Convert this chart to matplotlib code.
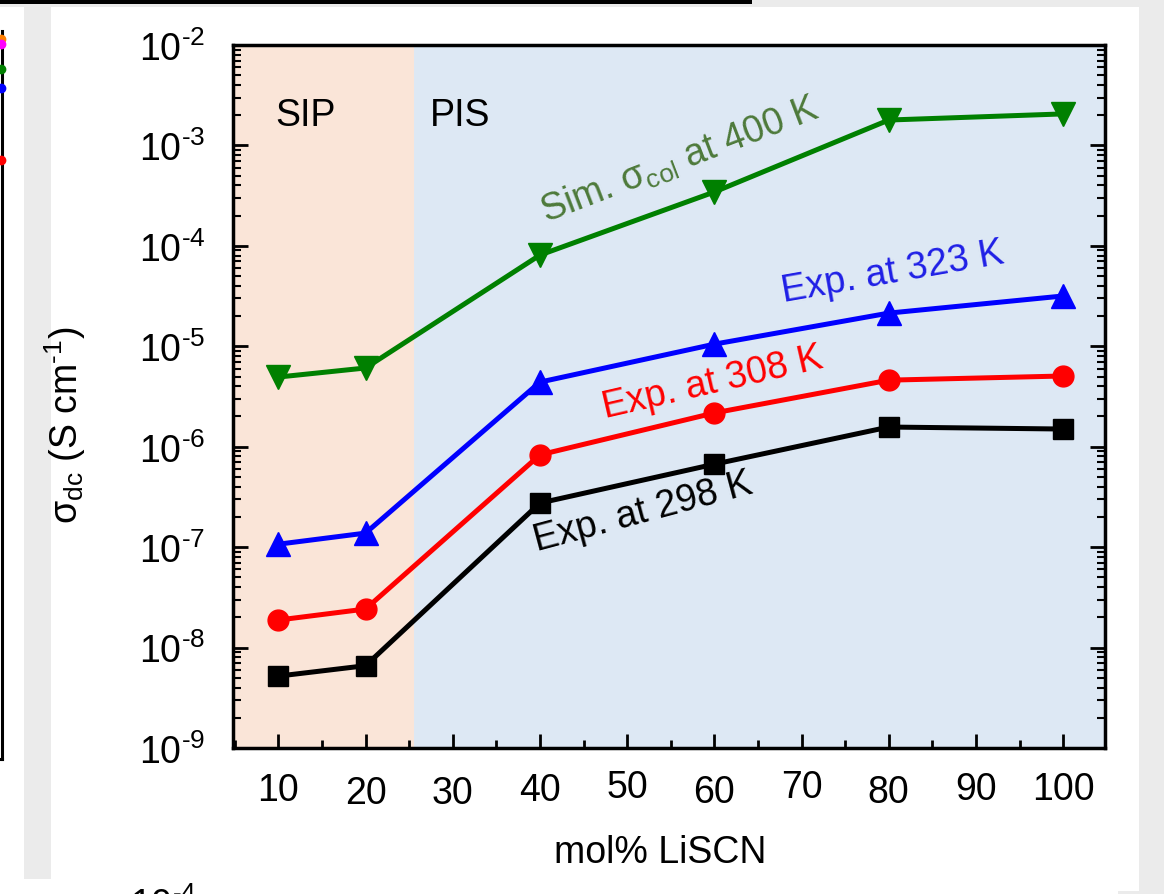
import matplotlib
matplotlib.use("Agg")
import matplotlib.pyplot as plt
import matplotlib.transforms as mtransforms
from matplotlib.patches import Rectangle
from matplotlib.lines import Line2D
from matplotlib.ticker import FuncFormatter
import numpy as np

plt.rcParams['font.family'] = ['Liberation Sans', 'DejaVu Sans']
plt.rcParams['mathtext.fontset'] = 'custom'
plt.rcParams['mathtext.rm'] = 'Liberation Sans'
plt.rcParams['mathtext.it'] = 'Liberation Sans:italic'
plt.rcParams['mathtext.default'] = 'regular'

# dados (mol% LiSCN x condutividade dc)
mol = [10, 20, 40, 60, 80, 100]
exp_298 = [5.2e-9, 6.6e-9, 2.75e-7, 6.7e-7, 1.57e-6, 1.5e-6]
exp_308 = [1.88e-8, 2.42e-8, 8.3e-7, 2.17e-6, 4.6e-6, 5.06e-6]
exp_323 = [1.07e-7, 1.38e-7, 4.4e-6, 1.05e-5, 2.14e-5, 3.17e-5]
sim_400 = [4.94e-6, 6.08e-6, 8.1e-5, 3.44e-4, 1.79e-3, 2.06e-3]
xticks = [10, 20, 30, 40, 50, 60, 70, 80, 90, 100]
limite_sip = 25.5

W, H = 1164, 895
fig = plt.figure(figsize=(W / 100, H / 100), dpi=100)

def px(x0, y0, w, h):
    # retangulo em pixels (origem no topo) -> fracao da figura
    return (x0 / W, 1 - (y0 + h) / H), w / W, h / H

# moldura da captura de tela (fundo cinza, barra preta, painel vizinho)
for (x0, y0, w, h), cor in [((0, 0, W, 8), '#ebebeb'),
                            ((24, 8, 27, 872), '#ebebeb'),
                            ((1139, 0, 25, H), '#ebebeb'),
                            ((1118, 892, 46, 3), '#ebebeb'),
                            ((0, 0, 752, 5), 'black')]:
    xy, ww, hh = px(x0, y0, w, h)
    fig.add_artist(Rectangle(xy, ww, hh, transform=fig.transFigure,
                             facecolor=cor, edgecolor='none', zorder=0))
fig.add_artist(Line2D([2 / W, 2 / W], [1 - 32 / H, 1 - 760 / H],
                      transform=fig.transFigure, color='black', lw=2.2))
fig.add_artist(Line2D([0, 2 / W], [1 - 760 / H, 1 - 760 / H],
                      transform=fig.transFigure, color='black', lw=2.2))
for yy, cor in [(40, '#ff8000'), (45, '#ff00ff'), (70, '#008000'),
                (89, '#0000ff'), (161, '#ff0000')]:
    fig.add_artist(Line2D([1 / W], [1 - yy / H], transform=fig.transFigure,
                          marker='o', ms=6, color=cor, ls='none'))
# resto do painel de baixo, cortado pela borda da captura
fig.text(130 / W, 1 - 887 / H, r'10$^{\text{-}4}$', fontsize=27, va='top')

ax = fig.add_axes([233 / W, 1 - 749 / H, 872 / W, 703 / H])
ax.set_yscale('log')
ax.set_xlim(4.8, 104.8)
ax.set_ylim(1e-9, 1e-2)

ax.axvspan(4.8, limite_sip, color='#fae5d8', zorder=0, lw=0)
ax.axvspan(limite_sip, 104.8, color='#dde8f4', zorder=0, lw=0)

ax.plot(mol, exp_298, color='black', marker='s', ms=14, lw=3.6)
ax.plot(mol, exp_308, color='#ff0000', marker='o', ms=15, lw=3.6)
ax.plot(mol, exp_323, color='#0000ff', marker='^', ms=17, lw=3.6)
ax.plot(mol, sim_400, color='#008000', marker='v', ms=17, lw=3.6)

ax.text(0.048, 0.926, 'SIP', transform=ax.transAxes, fontsize=27, va='top')
ax.text(0.226, 0.926, 'PIS', transform=ax.transAxes, fontsize=27, va='top')

ax.text(51.8, 10 ** -6.65, 'Exp. at 298 K', color='black', fontsize=27,
        rotation=15, ha='center', va='center')
ax.text(59.8, 10 ** -5.36, 'Exp. at 308 K', color='#ff0000', fontsize=27,
        rotation=13, ha='center', va='center')
ax.text(80.4, 10 ** -4.26, 'Exp. at 323 K', color='#1f1fe6', fontsize=27,
        rotation=10, ha='center', va='center')
ax.text(56.0, 10 ** -3.14, r'Sim. $\sigma_{col}$ at 400 K', color='#4d7a3a',
        fontsize=27, rotation=21, ha='center', va='center')

ax.set_xticks(xticks)
ax.set_xticks(np.arange(5, 105, 5), minor=True)
ax.yaxis.set_major_formatter(FuncFormatter(
    lambda v, p: r'10$^{\text{-}%d}$' % round(-np.log10(v))))
ax.tick_params(axis='both', which='both', direction='in', labelsize=27)
ax.tick_params(axis='x', which='major', length=10, width=2, pad=15)
ax.tick_params(axis='x', which='minor', length=6, width=2)
ax.tick_params(axis='y', which='major', length=11, width=2, pad=20, right=True)
ax.tick_params(axis='y', which='minor', length=6, width=1.5, right=True)

# pequeno desalinhamento vertical dos rotulos do eixo x, como no original
desloc = [3, 6, 6, 3, 0, 5, 0, 5, 2, 2]
for lab, d in zip(ax.get_xticklabels(), desloc):
    lab.set_transform(lab.get_transform() +
                      mtransforms.ScaledTranslation(0, -d / 100, fig.dpi_scale_trans))

for s in ax.spines.values():
    s.set_linewidth(2.5)

ax.set_xlabel('mol% LiSCN', fontsize=27)
ax.xaxis.set_label_coords(0.49, -0.122)
ax.set_ylabel(r'$\sigma_{dc}$ (S cm$^{\text{-}1}$)', fontsize=27)
ax.yaxis.set_label_coords(-0.166, 0.46)

fig.savefig('out.png', dpi=100)
